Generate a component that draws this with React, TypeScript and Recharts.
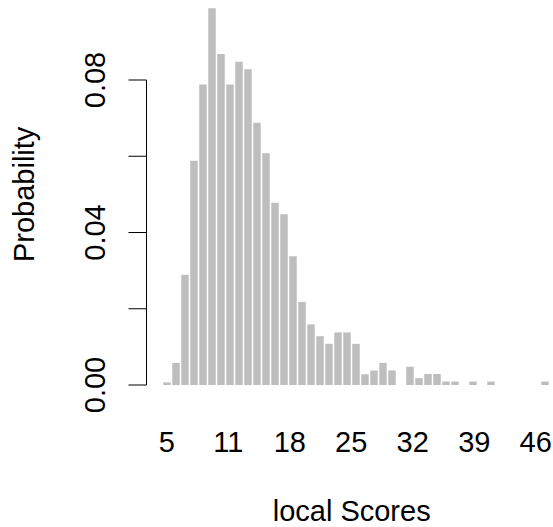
import { BarChart, Bar, XAxis, YAxis, ReferenceLine, Label } from "recharts";

const scores = [5, 6, 7, 8, 9, 10, 11, 12, 13, 14, 15, 16, 17, 18, 19, 20, 21, 22, 23, 24, 25, 26, 27, 28, 29, 30, 31, 32, 33, 34, 35, 36, 37, 38, 39, 40, 41, 42, 43, 44, 45, 46, 47];
const probs = [
  0.0007, 0.0058, 0.0289, 0.0588, 0.0788, 0.0988, 0.0868, 0.0788, 0.0848, 0.0828,
  0.0688, 0.0608, 0.0478, 0.0448, 0.0338, 0.0218, 0.0159, 0.0128, 0.0108, 0.0138,
  0.0138, 0.0108, 0.0028, 0.0038, 0.0058, 0.0038, 0, 0.0048, 0.0018, 0.0029,
  0.0029, 0.0009, 0.0009, 0, 0.0009, 0, 0.0009, 0, 0, 0, 0, 0, 0.0009,
];
const xTickPos = [5, 11.83, 18.67, 25.5, 32.33, 39.17, 46];
const xTickLabels = ["5", "11", "18", "25", "32", "39", "46"];
const yTicks = [0, 0.02, 0.04, 0.06, 0.08];
const yTickLabels = ["0.00", "", "0.04", "", "0.08"];

const rows = scores.map((s, i) => ({ score: s, prob: probs[i] }));

const FONT = "Liberation Sans, Arial, Helvetica, sans-serif";
const FS = 29;

const XTick = (props: any) => {
  const { x, y, index } = props;
  return (
    <text x={x} y={y + 67} textAnchor="middle" fontSize={FS} fontFamily={FONT} fill="#000">
      {xTickLabels[index]}
    </text>
  );
};

const YTick = (props: any) => {
  const { x, y, payload } = props;
  const label = yTickLabels[yTicks.indexOf(payload.value)];
  if (!label) return null;
  const bx = x - 23.5;
  return (
    <text x={bx} y={y} transform={`rotate(-90, ${bx}, ${y})`} textAnchor="middle" fontSize={FS} fontFamily={FONT} fill="#000">
      {label}
    </text>
  );
};

export default function App() {
  return (
    <div style={{ position: "absolute", left: 0, top: 0, background: "#fff" }}>
      <BarChart width={553} height={527} data={rows} margin={{ top: 3.75, right: 0.15, bottom: 0, left: 0 }}>
        <XAxis
          type="number"
          dataKey="score"
          domain={[2.75, 47.9]}
          ticks={xTickPos}
          interval={0}
          axisLine={false}
          tickLine={false}
          tickSize={0}
          tickMargin={0}
          height={142}
          tick={<XTick />}
        >
          <Label
            content={(p: any) => {
              const vb = p.viewBox;
              return (
                <text x={vb.x + vb.width / 2 + 2} y={521} textAnchor="middle" fontSize={FS} fontFamily={FONT} fill="#000">
                  local Scores
                </text>
              );
            }}
          />
        </XAxis>
        <YAxis
          type="number"
          domain={[0, 0.1]}
          ticks={yTicks}
          interval={0}
          width={146.5}
          axisLine={false}
          tickLine={{ stroke: "#000", strokeWidth: 1 }}
          tickSize={18}
          tickMargin={0}
          tick={<YTick />}
        >
          <Label
            content={(p: any) => {
              const vb = p.viewBox;
              const cy = vb.y + vb.height / 2;
              return (
                <text x={34} y={cy} transform={`rotate(-90, 34, ${cy})`} textAnchor="middle" fontSize={FS} fontFamily={FONT} fill="#000">
                  Probability
                </text>
              );
            }}
          />
        </YAxis>
        <ReferenceLine
          segment={[{ x: 2.75, y: 0 }, { x: 2.75, y: 0.08 }]}
          stroke="#000"
          strokeWidth={1}
        />
        <Bar dataKey="prob" fill="#bebebe" barSize={7.5} isAnimationActive={false} />
      </BarChart>
    </div>
  );
}
